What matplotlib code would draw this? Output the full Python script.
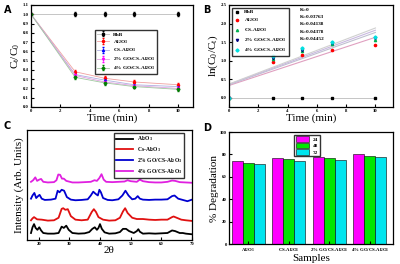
import matplotlib
matplotlib.use('Agg')
import matplotlib.pyplot as plt

plt.rcParams['font.family'] = ['Liberation Serif', 'DejaVu Serif']
plt.rcParams['font.weight'] = 'bold'
plt.rcParams['mathtext.default'] = 'regular'
plt.rcParams['axes.linewidth'] = 0.9
plt.rcParams['xtick.direction'] = 'in'
plt.rcParams['ytick.direction'] = 'in'
plt.rcParams['xtick.major.size'] = 2
plt.rcParams['ytick.major.size'] = 2

AL = 'Al$_2$O$_3$'

# ---- panel A: Ct/C0
t = [0, 3, 5, 7, 10]
a_labels = ['RhB', AL, 'CS-' + AL, '2% GO/CS-' + AL, '4% GO/CS-' + AL]
a_rhb = [1.0, 1.0, 1.0, 1.0, 1.0]
a_al = [1.0, 0.38, 0.31, 0.27, 0.24]
a_cs = [1.0, 0.35, 0.29, 0.24, 0.22]
a_go2 = [1.0, 0.34, 0.27, 0.23, 0.20]
a_go4 = [1.0, 0.32, 0.26, 0.22, 0.19]
a_err = [0.0, 0.02, 0.02, 0.02, 0.02]

# ---- panel B: ln(C0/Ct)
b_rhb = [0, 0, 0, 0, 0]
b_al = [0, 0.97, 1.14, 1.30, 1.41]
b_cs = [0, 1.05, 1.25, 1.44, 1.55]
b_go2 = [0, 1.08, 1.30, 1.47, 1.60]
b_go4 = [0, 1.13, 1.35, 1.50, 1.65]
k_texts = ['K=0', 'K=0.03763', 'K=0.04138', 'K=0.04378', 'K=0.04452']
fit_x = [0, 10]
fit_y = [[0.33, 1.63], [0.35, 1.76], [0.36, 1.82], [0.37, 1.88]]

# ---- panel C: XRD
c_labels = [AL, 'Cs-' + AL, '2% GO/CS-' + AL, '4% GO/CS-' + AL]
x_al = [17.5, 18.0, 18.5, 19.0, 19.6, 20.2, 20.8, 21.5, 23, 25, 26.5, 27.5, 28.2, 29.0, 29.8, 31, 33, 35, 36.5, 37.5,
        38.3, 39.0, 39.5, 40.0, 40.6, 41.5, 43, 45, 46.5, 47.5, 48.5, 49.5, 51, 52, 52.5, 53, 54, 56, 58, 60, 62, 63.5,
        64.5, 66, 67, 68, 70]
y_al = [22, 40, 50, 38, 32, 40, 30, 22, 20, 20, 22, 42, 38, 45, 32, 22, 20, 21, 25, 35,
        40, 32, 38, 50, 35, 24, 20, 21, 25, 35, 35, 28, 22, 28, 34, 26, 20, 21, 20, 21, 22, 30,
        28, 22, 22, 20, 18]
x_cs = [17.5, 18, 18.5, 19.5, 21, 23, 25, 26.5, 27.5, 28, 28.7, 29.5, 30.5, 32, 34, 36, 37.3, 38, 38.7, 39.5, 41, 43,
        45, 46.5, 47.5, 48.2, 49, 50.5, 52, 54, 56, 58, 60, 62, 63.5, 64, 65, 66.5, 68, 70]
y_cs = [62, 68, 72, 65, 64, 61, 62, 70, 98, 100, 95, 97, 75, 64, 62, 64, 88, 97, 88, 72, 64, 61,
        62, 70, 90, 100, 85, 70, 66, 66, 64, 63, 64, 64, 72, 74, 70, 64, 62, 60]
x_go2 = [17.5, 18.0, 18.6, 19.2, 19.8, 20.3, 21.0, 22, 24, 25.5, 26.2, 26.8, 27.5, 28.3, 29.2, 30.5, 32, 34, 36, 37,
         37.8, 38.6, 39.3, 39.8, 40.3, 41, 42.5, 44, 46, 47.3, 48.3, 49.3, 50.5, 51.5, 52.3, 53, 54, 56, 58, 60, 62,
         63.5, 64.3, 65.5, 67, 68.5, 70]
y_go2 = [130, 140, 148, 132, 138, 142, 130, 126, 127, 130, 155, 150, 158, 155, 135, 127, 125, 126, 128, 140,
         152, 145, 140, 158, 150, 132, 126, 125, 128, 140, 155, 140, 128, 130, 138, 130, 127, 126, 127, 127, 128,
         138, 140, 130, 126, 122, 127]
x_go4 = [17.5, 18.2, 18.9, 19.5, 20.2, 20.8, 21.5, 23, 25, 25.8, 26.4, 27.0, 27.6, 28.2, 29, 31, 33, 35, 37, 38.2,
         39, 39.8, 40.5, 41.2, 42, 44, 46, 48, 49, 50, 52, 53, 54, 56, 58, 60, 62, 63.5, 64.5, 66, 68, 70]
y_go4 = [183, 188, 197, 186, 190, 192, 183, 181, 182, 188, 206, 205, 193, 193, 186, 181, 181, 182, 183, 188,
         186, 195, 207, 190, 183, 182, 183, 184, 188, 185, 183, 190, 185, 182, 181, 181, 183, 187, 186, 182, 181, 180]

# ---- panel D: % degradation
samples = [AL, 'CS-' + AL, '2% GO/CS-' + AL, '4% GO/CS-' + AL]
hours = ['24', '48', '72']
deg_24 = [74, 77, 78, 80]
deg_48 = [72.5, 75.5, 77, 79]
deg_72 = [71, 74, 75, 77.5]

W, H = 400, 264
fig = plt.figure(figsize=(4.0, 2.64), dpi=100)


def box(l, r, t_, b):
    return [l / W, 1 - b / H, (r - l) / W, (b - t_) / H]


tick_fs = 3.4
lab_fs = 8
leg_fs = 3.8

# A
axA = fig.add_axes(box(31, 193, 5, 107))
colsA = ['black', 'red', 'blue', 'magenta', 'green']
mkA = ['s', 'o', '^', 'v', 'D']
lineA = ['#bbbbbb', '#f0a0a0', '#b0b0e0', '#e0a0e0', '#a0c8a0']
for ys, c, m, lc, lab in zip([a_rhb, a_al, a_cs, a_go2, a_go4], colsA, mkA, lineA, a_labels):
    axA.errorbar(t, ys, yerr=a_err, color=lc, lw=0.6, ecolor=c, elinewidth=0.4, capsize=0.8,
                 marker=m, mfc=c, mec=c, ms=1.5, label=lab)
axA.set_xlim(0, 11)
axA.set_ylim(0, 1.1)
axA.set_xticks([0, 2, 4, 6, 8, 10])
axA.set_yticks([i / 10 for i in range(12)])
axA.set_yticklabels(['%.1f' % (i / 10) for i in range(12)])
axA.tick_params(labelsize=tick_fs, pad=1.5)
axA.set_xlabel('Time (min)', fontsize=lab_fs, labelpad=0)
axA.set_ylabel('C$_t$/C$_0$', fontsize=lab_fs, labelpad=1)
axA.legend(loc='upper left', bbox_to_anchor=(0.38, 0.78), fontsize=leg_fs, frameon=True, fancybox=False,
           edgecolor='black', handlelength=2.2, borderpad=0.35, labelspacing=0.25)

# B
axB = fig.add_axes(box(229, 393, 5, 107))
colsB = ['black', 'red', '#00b050', '#000080', '#00e0e0']
mkB = ['s', 'o', '^', 'v', 'D']
lineB = ['#e0a0c0', '#c0c0d0', '#c8b8e0', '#d0d0d0']
for fy, lc in zip(fit_y, lineB):
    axB.plot(fit_x, fy, color=lc, lw=0.8)
axB.plot(t, b_rhb, color='#bbbbbb', lw=0.6)
for ys, c, m, lab in zip([b_rhb, b_al, b_cs, b_go2, b_go4], colsB, mkB, a_labels):
    axB.plot(t, ys, ls='none', marker=m, color=c, ms=1.6, label=lab)
axB.set_xlim(0, 11.2)
axB.set_ylim(-0.25, 2.5)
axB.set_xticks([0, 2, 4, 6, 8, 10])
axB.set_yticks([0, 0.5, 1.0, 1.5, 2.0, 2.5])
axB.set_yticklabels(['0.0', '0.5', '1.0', '1.5', '2.0', '2.5'])
axB.tick_params(labelsize=tick_fs, pad=1.5)
axB.set_xlabel('Time (min)', fontsize=lab_fs, labelpad=0)
axB.set_ylabel('ln(C$_0$/C$_t$)', fontsize=lab_fs, labelpad=1)
axB.legend(loc='upper left', bbox_to_anchor=(0.0, 1.0), fontsize=leg_fs, frameon=True, fancybox=False,
           edgecolor='black', handlelength=1.2, borderpad=0.4, labelspacing=0.45)
for i, kt in enumerate(k_texts):
    axB.text(0.43, 0.955 - i * 0.072, kt, transform=axB.transAxes, fontsize=leg_fs, va='center')

# C
axC = fig.add_axes(box(27, 192, 130, 240))
colsC = ['black', '#e01010', '#0000d0', '#e020e0']
for xs, ys, c, lab in zip([x_al, x_cs, x_go2, x_go4], [y_al, y_cs, y_go2, y_go4], colsC, c_labels):
    axC.plot(xs, ys, color=c, lw=1.3, label=lab)
axC.set_xlim(16.2, 70)
axC.set_ylim(0, 346)
axC.set_xticks([20, 30, 40, 50, 60, 70])
axC.set_yticks([])
axC.tick_params(labelsize=tick_fs, pad=1.5)
axC.set_xlabel('2θ', fontsize=lab_fs, labelpad=0)
axC.set_ylabel('Intensity (Arb. Units)', fontsize=lab_fs, labelpad=2)
axC.legend(loc='upper right', bbox_to_anchor=(0.97, 1.0), fontsize=leg_fs + 0.3, frameon=True, fancybox=False,
           edgecolor='black', handlelength=3.0, borderpad=0.3, labelspacing=0.35)

# D
axD = fig.add_axes(box(229, 393, 132, 244))
pos = list(range(len(samples)))
bw = 0.27
colsD = ['#ff00ff', '#00e600', '#00e5ee']
for j, (vals, c, lab) in enumerate(zip([deg_24, deg_48, deg_72], colsD, hours)):
    axD.bar([p + (j - 1) * bw for p in pos], vals, width=bw, color=c, edgecolor='black', lw=0.4, label=lab)
axD.set_xlim(-0.47, 3.57)
axD.set_ylim(0, 100)
axD.set_yticks([0, 20, 40, 60, 80, 100])
axD.set_xticks(pos)
axD.set_xticklabels(samples)
axD.tick_params(labelsize=tick_fs, pad=1.5)
axD.set_xlabel('Samples', fontsize=lab_fs, labelpad=0)
axD.set_ylabel('% Degradation', fontsize=lab_fs, labelpad=1)
axD.legend(loc='upper left', bbox_to_anchor=(0.38, 1.0), fontsize=leg_fs, frameon=True, fancybox=False,
           edgecolor='black', handlelength=2.5, handleheight=1.2, borderpad=0.3, labelspacing=0.2)

for lab, x, y in [('A', 4, 10), ('B', 203, 10), ('C', 4, 126), ('D', 203, 128)]:
    fig.text(x / W, 1 - y / H, lab, fontsize=7, fontweight='bold', family='DejaVu Sans', va='center')

fig.savefig('out.png', dpi=100)
